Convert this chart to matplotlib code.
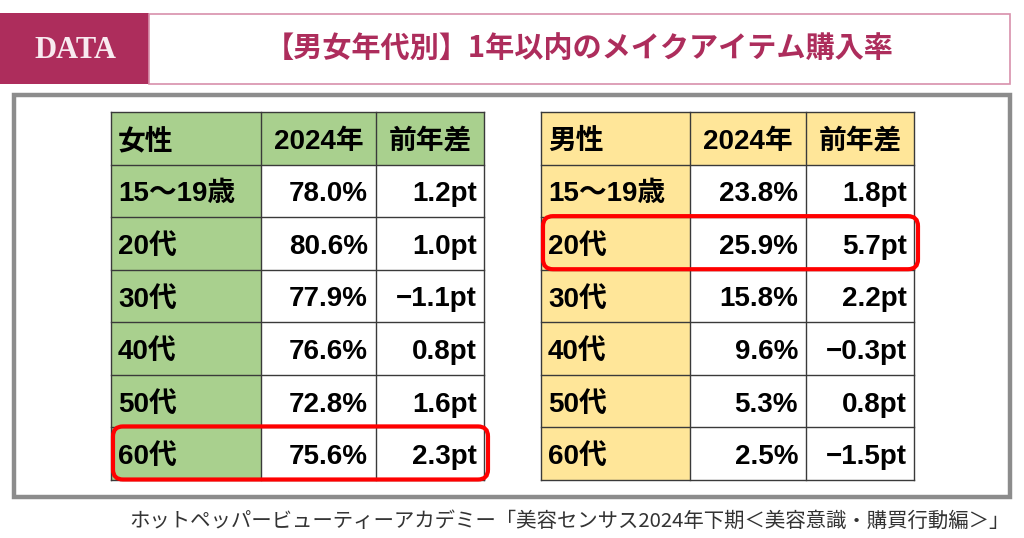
import matplotlib
matplotlib.use("Agg")
import matplotlib.pyplot as plt
from matplotlib.patches import Rectangle, FancyBboxPatch

plt.rcParams['font.family'] = ['Noto Sans CJK JP', 'DejaVu Sans']

# ---- data ----
title = "【男女年代別】1年以内のメイクアイテム購入率"
source = "ホットペッパービューティーアカデミー「美容センサス2024年下期＜美容意識・購買行動編＞」"
columns_female = ["女性", "2024年", "前年差"]
columns_male = ["男性", "2024年", "前年差"]
age_groups = ["15～19歳", "20代", "30代", "40代", "50代", "60代"]
female_rate = [78.0, 80.6, 77.9, 76.6, 72.8, 75.6]
female_diff = [1.2, 1.0, -1.1, 0.8, 1.6, 2.3]
male_rate = [23.8, 25.9, 15.8, 9.6, 5.3, 2.5]
male_diff = [1.8, 5.7, 2.2, -0.3, 0.8, -1.5]
female_highlight = ["60代"]
male_highlight = ["20代"]

# ---- style ----
W, H = 1024, 538
MAGENTA = "#AD2D5C"
GREEN = "#A9D08E"
YELLOW = "#FFE699"
LINE = "#3a3a3a"
FS = 20
CELL_FONT = ['Liberation Sans', 'Noto Sans CJK JP']
TEXT_DY = 3.5

fig = plt.figure(figsize=(W / 100, H / 100), dpi=100)
ax = fig.add_axes([0, 0, 1, 1])
ax.set_xlim(0, W)
ax.set_ylim(H, 0)
ax.axis("off")

# header
ax.add_patch(Rectangle((0, 13), 149, 71, facecolor=MAGENTA, edgecolor="none"))
ax.text(75, 50, "DATA", color="#F8EAF0", fontsize=22, fontweight="bold",
        family=["Liberation Serif"], ha="center", va="center")
ax.add_patch(Rectangle((149, 13.5), 861, 70.5, facecolor="white",
                       edgecolor="#D890AB", linewidth=1.2))
ax.text(579, 48, title, color=MAGENTA, fontsize=21, fontweight="bold",
        ha="center", va="center")

# gray frame
ax.add_patch(Rectangle((14, 94.5), 996, 402.5, facecolor="white",
                       edgecolor="#8C8C8C", linewidth=3.2))


def fmt_diff(v):
    return ("\u2212" if v < 0 else "") + f"{abs(v):.1f}pt"


def draw_table(x_edges, top, row_h, header, labels, rates, diffs, fill, highlight):
    n_rows = len(labels) + 1
    bottom = top + row_h * n_rows
    ax.add_patch(Rectangle((x_edges[0], top), x_edges[1] - x_edges[0],
                           bottom - top, facecolor=fill, edgecolor="none"))
    ax.add_patch(Rectangle((x_edges[0], top), x_edges[-1] - x_edges[0],
                           row_h, facecolor=fill, edgecolor="none"))
    for i in range(n_rows + 1):
        y = top + i * row_h
        ax.plot([x_edges[0], x_edges[-1]], [y, y], color=LINE, lw=1.0)
    for x in x_edges:
        ax.plot([x, x], [top, bottom], color=LINE, lw=1.0)
    kw = dict(fontsize=FS, fontweight="bold", family=CELL_FONT, va="center")
    yc = top + row_h / 2 + TEXT_DY
    ax.text(x_edges[0] + 7, yc, header[0], ha="left", **kw)
    for j in (1, 2):
        ax.text((x_edges[j] + x_edges[j + 1]) / 2, yc, header[j], ha="center", **kw)
    for i, (lab, r, d) in enumerate(zip(labels, rates, diffs)):
        yc = top + (i + 1.5) * row_h + TEXT_DY
        ax.text(x_edges[0] + 7, yc, lab, ha="left", **kw)
        ax.text(x_edges[2] - 8, yc, f"{r:.1f}%", ha="right", **kw)
        ax.text(x_edges[3] - 7, yc, fmt_diff(d), ha="right", **kw)
        if lab in highlight:
            ax.add_patch(FancyBboxPatch((x_edges[0] + 2, top + (i + 1) * row_h - 1),
                                        x_edges[-1] - x_edges[0] + 2, row_h + 0.5,
                                        boxstyle="round,pad=0,rounding_size=10",
                                        facecolor="none", edgecolor="#FF0000",
                                        linewidth=3.0, zorder=5))


ROW_H = (480 - 112) / 7
draw_table([111, 261, 376, 484], 112, ROW_H, columns_female, age_groups,
           female_rate, female_diff, GREEN, female_highlight)
draw_table([541, 690, 806, 914], 112, ROW_H, columns_male, age_groups,
           male_rate, male_diff, YELLOW, male_highlight)

# source
ax.text(1010, 521, source, fontsize=14.7, color="#333333", ha="right", va="center")

fig.savefig("out.png", dpi=100)
